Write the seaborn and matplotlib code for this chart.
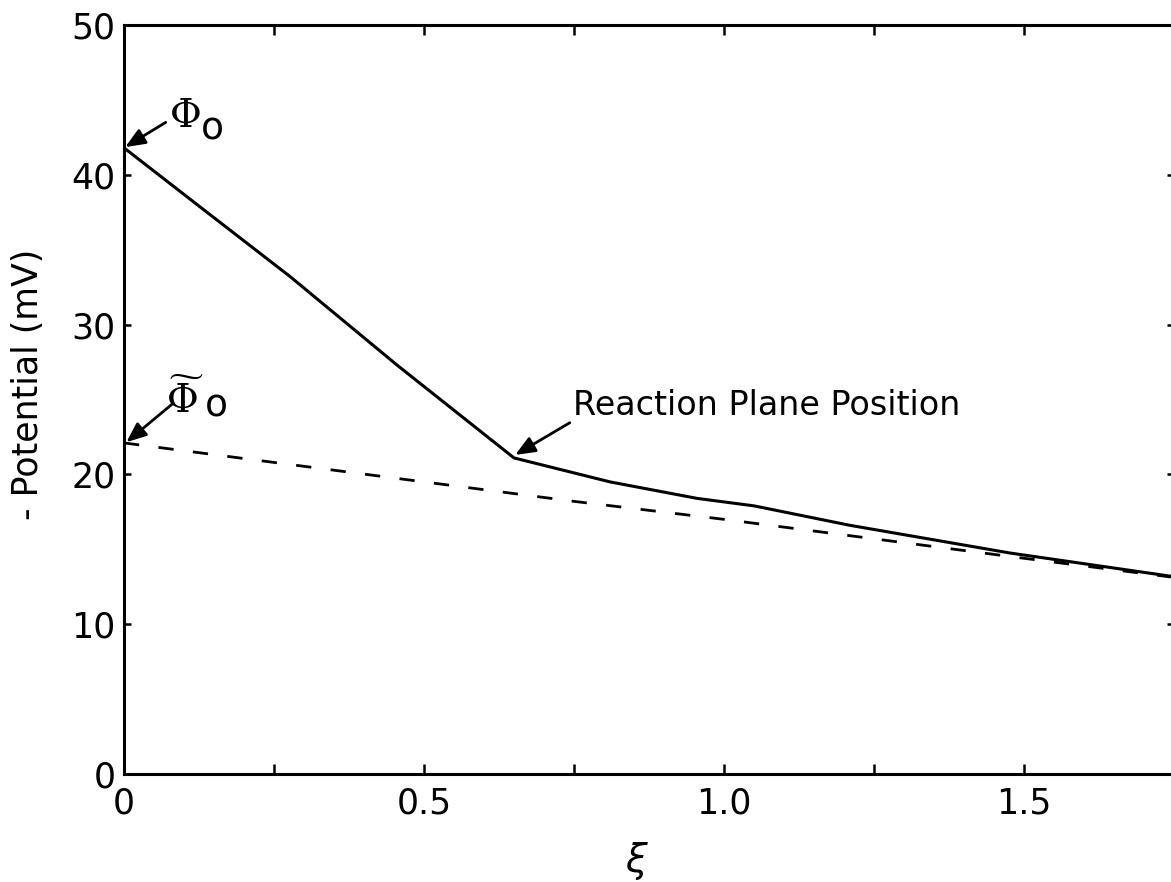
import matplotlib
matplotlib.use("Agg")
import matplotlib.pyplot as plt
import seaborn as sns
import pandas as pd

# ---- data ----
xi_solid = [0.0, 0.127, 0.277, 0.455, 0.65, 0.81, 0.955, 1.05, 1.21, 1.477, 1.745]
pot_solid = [41.8, 37.85, 33.2, 27.3, 21.1, 19.5, 18.4, 17.9, 16.6, 14.75, 13.2]

xi_dash = [0.0, 0.25, 0.5, 0.75, 1.0, 1.25, 1.5, 1.745]
pot_dash = [22.1, 20.8, 19.5, 18.2, 17.0, 15.7, 14.4, 13.15]

x_major = [0.0, 0.5, 1.0, 1.5]
x_labels = ["0", "0.5", "1.0", "1.5"]
x_minor = [0.25, 0.75, 1.25, 1.75]
y_ticks = [0, 10, 20, 30, 40, 50]
y_labels = ["0", "10", "20", "30", "40", "50"]

sns.set_style("ticks")
plt.rcParams["font.family"] = ["DejaVu Sans"]
plt.rcParams["text.color"] = "black"
plt.rcParams["axes.labelcolor"] = "black"

W, H = 1171, 882
fig = plt.figure(figsize=(W / 100, H / 100), dpi=100)
left, right, top, bottom = 124, 1174, 25, 774
ax = fig.add_axes([left / W, (H - bottom) / H, (right - left) / W, (bottom - top) / H])

solid = pd.DataFrame({"xi": xi_solid, "pot": pot_solid})
dash = pd.DataFrame({"xi": xi_dash, "pot": pot_dash})
sns.lineplot(data=solid, x="xi", y="pot", ax=ax, color="black", lw=2.2, sort=False)
sns.lineplot(data=dash, x="xi", y="pot", ax=ax, color="black", lw=2.0, sort=False)
ax.lines[-1].set_dashes([5.5, 7])

ax.set_xlim(0, 1.75)
ax.set_ylim(0, 50)
ax.set_xticks(x_major)
ax.set_xticklabels(x_labels)
ax.set_xticks(x_minor, minor=True)
ax.set_yticks(y_ticks)
ax.set_yticklabels(y_labels)

for s in ax.spines.values():
    s.set_linewidth(2.2)
    s.set_color("black")
    s.set_visible(True)

ax.tick_params(axis="x", which="both", direction="in", length=7, width=1.8,
               top=True, bottom=True, labelsize=25, pad=9, colors="black")
ax.tick_params(axis="y", which="both", direction="in", length=5, width=1.8,
               left=True, right=True, labelsize=25, pad=6, colors="black")

ax.set_xlabel(r"$\xi$", fontsize=28, color="black")
ax.xaxis.set_label_coords(0.489, -0.088)
ax.set_ylabel("- Potential (mV)", fontsize=25, color="black")
ax.yaxis.set_label_coords(-0.075, 0.52)

arrow = dict(arrowstyle="-|>,head_length=0.6,head_width=0.25", color="black",
             lw=2.0, mutation_scale=20, shrinkA=0, shrinkB=0)

# Phi_0
ax.annotate("", xy=(0.002, 41.85), xytext=(0.0695, 43.5), arrowprops=arrow)
ax.text(0.102, 43.9, r"$\Phi$", fontsize=28, ha="center", va="center",
        math_fontfamily="dejavuserif", color="black")
ax.text(0.147, 43.0, "o", fontsize=27, ha="center", va="center", color="black")

# tilde Phi_0
ax.annotate("", xy=(0.004, 22.15), xytext=(0.082, 24.75), arrowprops=arrow)
ax.text(0.101, 24.1, r"$\widetilde{\Phi}$", fontsize=28, ha="center", va="baseline",
        math_fontfamily="dejavuserif", color="black")
ax.text(0.154, 24.5, "o", fontsize=27, ha="center", va="center", color="black")

# reaction plane
ax.annotate("", xy=(0.652, 21.3), xytext=(0.743, 23.45), arrowprops=arrow)
ax.text(0.748, 23.95, "Reaction Plane Position", fontsize=24, ha="left",
        va="baseline", color="black")

fig.savefig("out.png", dpi=100)
